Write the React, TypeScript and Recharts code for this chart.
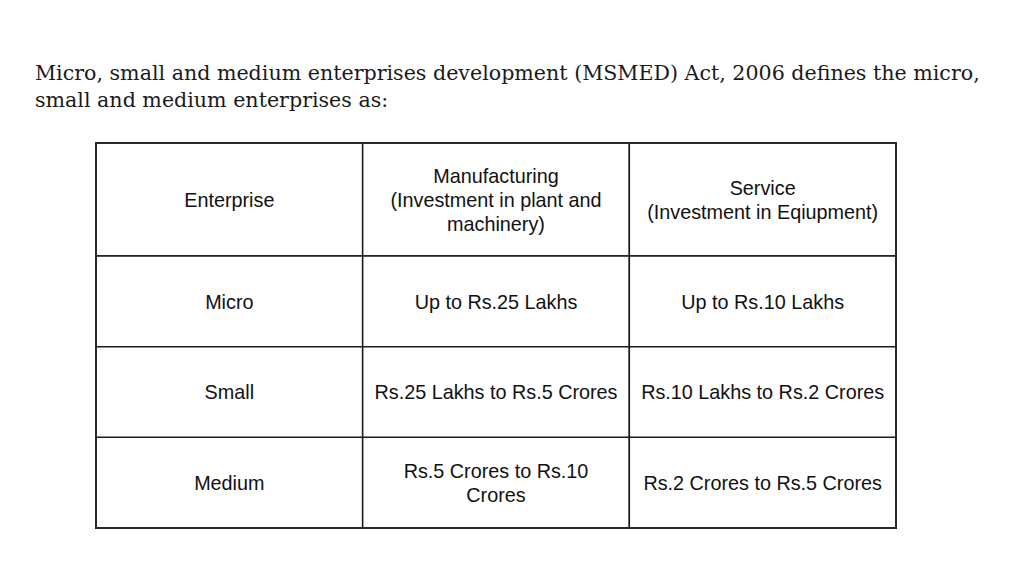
import React from 'react';
import { BarChart, Bar, XAxis, YAxis, LabelList } from 'recharts';

// table content
const columns = ['Enterprise', 'Manufacturing', 'Service'];
const headerTexts = [
  'Enterprise',
  'Manufacturing\n(Investment in plant and\nmachinery)',
  'Service\n(Investment in Eqiupment)',
];
const rowNames = ['Micro', 'Small', 'Medium'];
const manufacturing = [
  'Up to Rs.25 Lakhs',
  'Rs.25 Lakhs to Rs.5 Crores',
  'Rs.5 Crores to Rs.10\nCrores',
];
const service = [
  'Up to Rs.10 Lakhs',
  'Rs.10 Lakhs to Rs.2 Crores',
  'Rs.2 Crores to Rs.5 Crores',
];

const TITLE =
  'Micro, small and medium enterprises development (MSMED) Act, 2006 defines the micro, small and medium enterprises as:';

// each cell is one unit wide in a stacked horizontal bar
const headerData = [
  { row: 'header', c0: 1, c1: 1, c2: 1, t0: headerTexts[0], t1: headerTexts[1], t2: headerTexts[2] },
];
const bodyData = rowNames.map((name, i) => ({
  row: name,
  c0: 1,
  c1: 1,
  c2: 1,
  t0: name,
  t1: manufacturing[i],
  t2: service[i],
}));

interface CellLabelProps {
  x?: number;
  y?: number;
  width?: number;
  height?: number;
  value?: string;
}

const CellLabel = ({ x = 0, y = 0, width = 0, height = 0, value = '' }: CellLabelProps) => {
  const lines = String(value).split('\n');
  const lineH = 24;
  const cx = x + width / 2;
  const cy = y + height / 2 - ((lines.length - 1) * lineH) / 2;
  return (
    <text
      x={cx}
      y={cy}
      textAnchor="middle"
      dominantBaseline="central"
      fontFamily="'Liberation Sans', Arial, sans-serif"
      fontSize={19.8}
      fill="#111"
    >
      {lines.map((l, i) => (
        <tspan key={i} x={cx} dy={i === 0 ? 0 : lineH}>
          {l}
        </tspan>
      ))}
    </text>
  );
};

const TableChart = ({ data, height }: { data: typeof bodyData; height: number }) => (
  <BarChart
    width={804}
    height={height}
    data={data}
    layout="vertical"
    barCategoryGap={0}
    margin={{ top: 2, right: 2, bottom: 2, left: 2 }}
  >
    <XAxis type="number" domain={[0, columns.length]} hide />
    <YAxis type="category" dataKey="row" hide />
    {columns.map((c, i) => (
      <Bar
        key={c}
        dataKey={`c${i}`}
        stackId="cells"
        fill="#fff"
        stroke="#1a1a1a"
        strokeWidth={1.5}
        isAnimationActive={false}
      >
        <LabelList dataKey={`t${i}`} content={(p: CellLabelProps) => <CellLabel {...p} />} />
      </Bar>
    ))}
  </BarChart>
);

const App = () => {
  return (
    <div
      style={{
        position: 'relative',
        width: 1024,
        height: 576,
        margin: -8,
        background: '#fff',
        overflow: 'hidden',
      }}
    >
      <div
        style={{
          position: 'absolute',
          left: 35,
          top: 60,
          width: 960,
          fontFamily: "'DejaVu Serif', serif",
          fontSize: 20.6,
          lineHeight: '27px',
          color: '#1a1a1a',
        }}
      >
        {TITLE}
      </div>
      <div style={{ position: 'absolute', left: 94, top: 141 }}>
        <TableChart data={headerData} height={117} />
      </div>
      <div style={{ position: 'absolute', left: 94, top: 254 }}>
        <TableChart data={bodyData} height={276} />
      </div>
      {/* slightly heavier outer frame */}
      <div
        style={{
          position: 'absolute',
          left: 95,
          top: 142,
          width: 798,
          height: 383,
          border: '2px solid #2a2a2a',
        }}
      />
    </div>
  );
};

export default App;
